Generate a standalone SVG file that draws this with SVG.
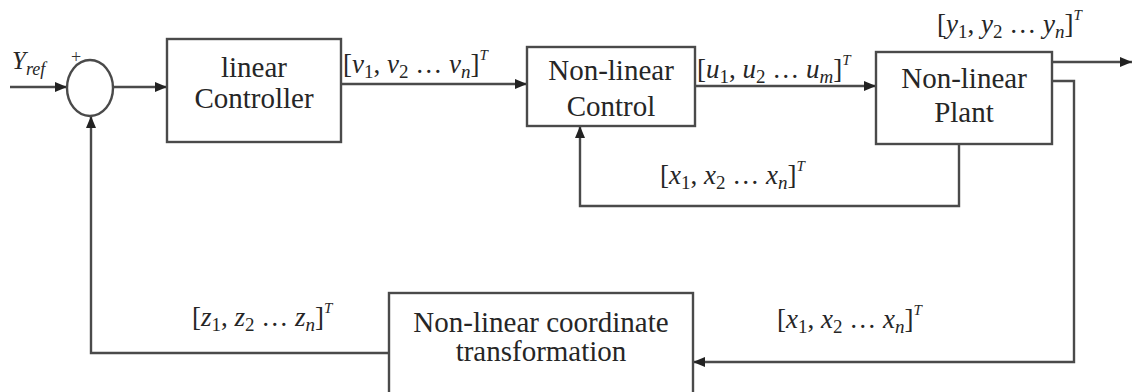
<svg xmlns="http://www.w3.org/2000/svg" width="1133" height="392" viewBox="0 0 1133 392">
  <style>
    .box { fill: #ffffff; stroke: #4a4a4a; stroke-width: 2.4; }
    .ring { fill: none; stroke: #4a4a4a; stroke-width: 2.4; }
    .wire { fill: none; stroke: #4a4a4a; stroke-width: 2.4; }
    .lbl { font-family: "Liberation Serif", "Times New Roman", serif; font-size: 29px; fill: #262626; text-anchor: middle; }
    .math { font-family: "Liberation Serif", "Times New Roman", serif; font-size: 27px; fill: #262626; }
    .sign { font-family: "Liberation Serif", "Times New Roman", serif; font-size: 18px; fill: #333333; text-anchor: middle; }
    .v { font-style: italic; }
    .sub { font-size: 19px; }
    .sup { font-size: 15px; font-style: italic; }
  </style>
  <defs>
    <marker id="arr" viewBox="0 0 12 10" refX="12" refY="5" markerWidth="12" markerHeight="10" markerUnits="userSpaceOnUse" orient="auto">
      <path d="M0,0 L12,5 L0,10 Z" fill="#222"/>
    </marker>
  </defs>
  <rect width="1133" height="392" fill="#ffffff"/>

  <!-- signal lines -->
  <g id="connectors">
    <path class="wire" d="M10,87 H67" marker-end="url(#arr)"/>
    <path class="wire" d="M113,87 H167" marker-end="url(#arr)"/>
    <path class="wire" d="M341,84 H527" marker-end="url(#arr)"/>
    <path class="wire" d="M695,86 H876" marker-end="url(#arr)"/>
    <path class="wire" d="M1052,62 H1132" marker-end="url(#arr)"/>
    <path class="wire" d="M959,130 V206 H580 V126" marker-end="url(#arr)"/>
    <path class="wire" d="M1052,81 H1074 V362 H693" marker-end="url(#arr)"/>
    <path class="wire" d="M389,353 H91 V116" marker-end="url(#arr)"/>
  </g>

  <!-- summing junction -->
  <g id="sum">
    <ellipse cx="90" cy="88" rx="23" ry="28" class="ring"/>
    <text x="76" y="63" class="sign">+</text>
  </g>

  <g id="yref">
    <text x="12" y="69" class="math"><tspan class="v" font-size="25">Y</tspan><tspan class="v" font-size="18" dy="6">ref</tspan></text>
  </g>

  <g id="linear-controller">
    <rect x="167" y="39" width="174" height="103" class="box"/>
    <text x="254" y="77" class="lbl">linear</text>
    <text x="254" y="108" class="lbl">Controller</text>
  </g>

  <g id="nonlinear-control">
    <rect x="527" y="47" width="168" height="79" class="box"/>
    <text x="611" y="80" class="lbl">Non-linear</text>
    <text x="611" y="116" class="lbl">Control</text>
  </g>

  <g id="nonlinear-plant">
    <rect x="876" y="52" width="176" height="92" class="box"/>
    <text x="964" y="88" class="lbl">Non-linear</text>
    <text x="964" y="122" class="lbl">Plant</text>
  </g>

  <g id="coordinate-transformation">
    <rect x="389" y="293" width="304" height="120" class="box"/>
    <text x="541" y="332" class="lbl">Non-linear coordinate</text>
    <text x="541" y="361" class="lbl">transformation</text>
  </g>

  <!-- signal labels -->
  <g id="labels">
    <text x="343" y="73" class="math">[<tspan class="v">v</tspan><tspan class="sub" dy="5">1</tspan><tspan dy="-5">, </tspan><tspan class="v">v</tspan><tspan class="sub" dy="5">2</tspan><tspan dy="-5"> … </tspan><tspan class="v">v</tspan><tspan class="sub v" dy="5">n</tspan><tspan dy="-5">]</tspan><tspan class="sup" dy="-13">T</tspan></text>
    <text x="697" y="78" class="math">[<tspan class="v">u</tspan><tspan class="sub" dy="5">1</tspan><tspan dy="-5">, </tspan><tspan class="v">u</tspan><tspan class="sub" dy="5">2</tspan><tspan dy="-5"> … </tspan><tspan class="v">u</tspan><tspan class="sub v" dy="5">m</tspan><tspan dy="-5">]</tspan><tspan class="sup" dy="-13">T</tspan></text>
    <text x="937" y="33" class="math">[<tspan class="v">y</tspan><tspan class="sub" dy="5">1</tspan><tspan dy="-5">, </tspan><tspan class="v">y</tspan><tspan class="sub" dy="5">2</tspan><tspan dy="-5"> … </tspan><tspan class="v">y</tspan><tspan class="sub v" dy="5">n</tspan><tspan dy="-5">]</tspan><tspan class="sup" dy="-13">T</tspan></text>
    <text x="660" y="184" class="math">[<tspan class="v">x</tspan><tspan class="sub" dy="5">1</tspan><tspan dy="-5">, </tspan><tspan class="v">x</tspan><tspan class="sub" dy="5">2</tspan><tspan dy="-5"> … </tspan><tspan class="v">x</tspan><tspan class="sub v" dy="5">n</tspan><tspan dy="-5">]</tspan><tspan class="sup" dy="-13">T</tspan></text>
    <text x="777" y="328" class="math">[<tspan class="v">x</tspan><tspan class="sub" dy="5">1</tspan><tspan dy="-5">, </tspan><tspan class="v">x</tspan><tspan class="sub" dy="5">2</tspan><tspan dy="-5"> … </tspan><tspan class="v">x</tspan><tspan class="sub v" dy="5">n</tspan><tspan dy="-5">]</tspan><tspan class="sup" dy="-13">T</tspan></text>
    <text x="192" y="326" class="math">[<tspan class="v">z</tspan><tspan class="sub" dy="5">1</tspan><tspan dy="-5">, </tspan><tspan class="v">z</tspan><tspan class="sub" dy="5">2</tspan><tspan dy="-5"> … </tspan><tspan class="v">z</tspan><tspan class="sub v" dy="5">n</tspan><tspan dy="-5">]</tspan><tspan class="sup" dy="-13">T</tspan></text>
  </g>
</svg>
